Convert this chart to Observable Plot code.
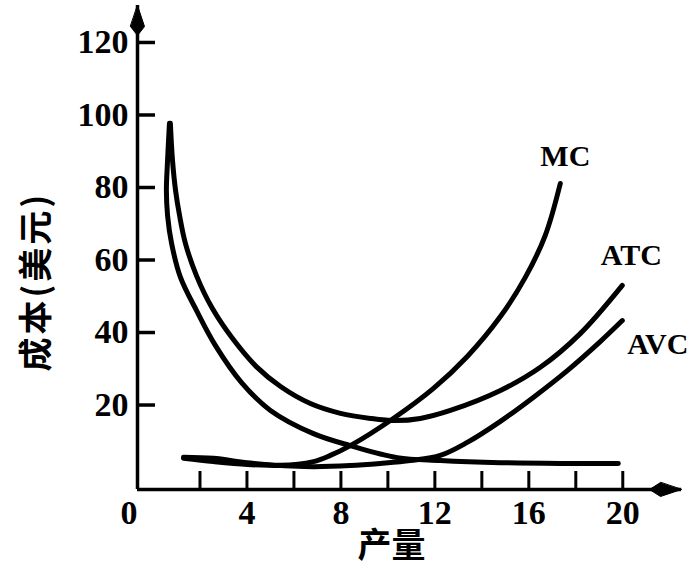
<!DOCTYPE html>
<html>
<head>
<meta charset="utf-8">
<script src="https://cdn.jsdelivr.net/npm/d3@7"></script>
<script src="https://cdn.jsdelivr.net/npm/@observablehq/plot@0.6"></script>
<style>
  html, body { margin: 0; padding: 0; background: #fff; }
</style>
</head>
<body>
<div id="chart"></div>
<script>
// ---- data ----
const yTicks = [20, 40, 60, 80, 100, 120];
const xTickMarks = [2, 4, 6, 8, 10, 12, 14, 16, 18, 20];
const xTickLabels = [4, 8, 12, 16, 20];
const originLabel = [0];
const xTitle = "产量";
const yTitle = "成本(美元)";

// [quantity, cost]
const MC = [[1.3, 5.6], [2.57, 5.3], [4.02, 4.1], [5.43, 3.4], [6.83, 4.4], [7.55, 6.1], [8.4, 8.8], [10.23, 16.3], [11.94, 24.6], [13.38, 33.4], [14.79, 44.4], [15.85, 55.2], [16.7, 66.8], [17.34, 81.1]];
const ATC = [[0.74, 97.7], [0.83, 87.5], [0.96, 79.2], [1.13, 72.3], [1.38, 64.6], [1.85, 55.7], [2.53, 46.6], [3.38, 38.4], [4.4, 30.6], [5.43, 25.1], [6.7, 20.4], [7.98, 17.7], [9.26, 16.3], [10.32, 15.7], [11.38, 16.3], [12.66, 18.5], [14.79, 24.0], [16.49, 30.4], [18.19, 39.7], [19.98, 53.0]];
const AVC = [[1.3, 5.3], [2.57, 4.4], [4.02, 3.6], [5.43, 3.3], [6.83, 3.0], [8.4, 3.3], [9.68, 3.9], [10.96, 4.7], [12.23, 6.1], [13.38, 9.7], [14.79, 15.5], [16.19, 22.1], [17.64, 29.5], [19.04, 37.5], [19.98, 43.3]];
const AFC = [[0.7, 97.7], [0.62, 87.5], [0.57, 79.2], [0.62, 72.3], [0.79, 64.6], [1.17, 55.2], [1.85, 46.1], [2.66, 36.4], [3.77, 26.2], [5.0, 18.5], [6.83, 12.1], [8.4, 8.8], [10.4, 5.5], [12.23, 4.7], [14.79, 4.1], [17.34, 3.9], [19.81, 3.9]];

// scale extents
const xMin = -0.66, xMax = 22.5;
const yMin = -3.3, yMax = 130.2;

const serif = "'Liberation Serif', 'Times New Roman', serif";
const cjk = "'Noto Sans CJK SC', sans-serif";

const arrowHead = {
  draw(context, l) {
    context.moveTo(0, -l);
    context.lineTo(7, -l + 21);
    context.lineTo(0, 0);
    context.lineTo(-7, -l + 21);
    context.closePath();
  }
};

const qx = d => d[0], cy = d => d[1];
const lineOpts = {x: qx, y: cy, curve: "catmull-rom", stroke: "black", strokeWidth: 5, strokeLinecap: "round", strokeLinejoin: "round"};
const labelOpts = {x: qx, y: cy, fontFamily: serif, fontWeight: "bold", fontSize: 30, fill: "black"};

const chart = Plot.plot({
  width: 692,
  height: 572,
  marginLeft: 137,
  marginRight: 11,
  marginTop: 5,
  marginBottom: 83,
  style: {fontFamily: serif, fontWeight: "bold", fontSize: "34px", color: "black", background: "white"},
  x: {domain: [xMin, xMax], axis: null},
  y: {domain: [yMin, yMax], axis: null},
  marks: [
    // axis lines
    Plot.ruleX([xMin], {stroke: "black", strokeWidth: 3.5}),
    Plot.ruleY([yMin], {stroke: "black", strokeWidth: 3.5}),
    // arrow heads
    Plot.vector([0], {x: () => xMin, y: () => yMax, length: 30, anchor: "end", rotate: 0, shape: arrowHead, fill: "black", stroke: "black", strokeWidth: 1}),
    Plot.vector([0], {x: () => xMax, y: () => yMin, length: 32, anchor: "end", rotate: 90, shape: arrowHead, fill: "black", stroke: "black", strokeWidth: 1}),
    // y ticks (inward) and labels
    Plot.axisY(yTicks, {tickSize: 18, dx: 18, fill: "none", stroke: "black", strokeWidth: 3.5, label: null}),
    Plot.axisY(yTicks, {tickSize: 0, tickPadding: 9, stroke: "none", fill: "black", label: null}),
    // x ticks (inward) and labels
    Plot.axisX(xTickMarks, {tickSize: 18, dy: -18, fill: "none", stroke: "black", strokeWidth: 3, label: null}),
    Plot.axisX(xTickLabels, {tickSize: 0, tickPadding: 10, stroke: "none", fill: "black", label: null}),
    Plot.axisX(originLabel, {tickSize: 0, tickPadding: 10, dx: -24, stroke: "none", fill: "black", label: null}),
    // curves
    Plot.line(AFC, lineOpts),
    Plot.line(ATC, lineOpts),
    Plot.line(AVC, lineOpts),
    Plot.line(MC, lineOpts),
    // curve labels
    Plot.text([MC.at(-1)], {...labelOpts, text: () => "MC", dx: 5, dy: -27}),
    Plot.text([ATC.at(-1)], {...labelOpts, text: () => "ATC", dx: 9, dy: -30}),
    Plot.text([AVC.at(-1)], {...labelOpts, text: () => "AVC", dx: 5, dy: 24, textAnchor: "start"}),
    // axis titles
    Plot.text([yTitle], {text: d => d, frameAnchor: "left", textAnchor: "middle", y: () => 54, dx: -100, rotate: -90, fontFamily: cjk, fontWeight: "bold", fontSize: 34, fill: "black"}),
    Plot.text([xTitle], {text: d => d, frameAnchor: "bottom", textAnchor: "middle", x: () => 10.15, dy: 67, fontFamily: cjk, fontWeight: "bold", fontSize: 34, fill: "black"})
  ]
});
// spread the rotated y title a little, as in the reference
d3.select(chart).selectAll("text").filter(function() { return this.textContent === yTitle; }).style("letter-spacing", "3px");
document.getElementById("chart").appendChild(chart);
</script>
</body>
</html>
